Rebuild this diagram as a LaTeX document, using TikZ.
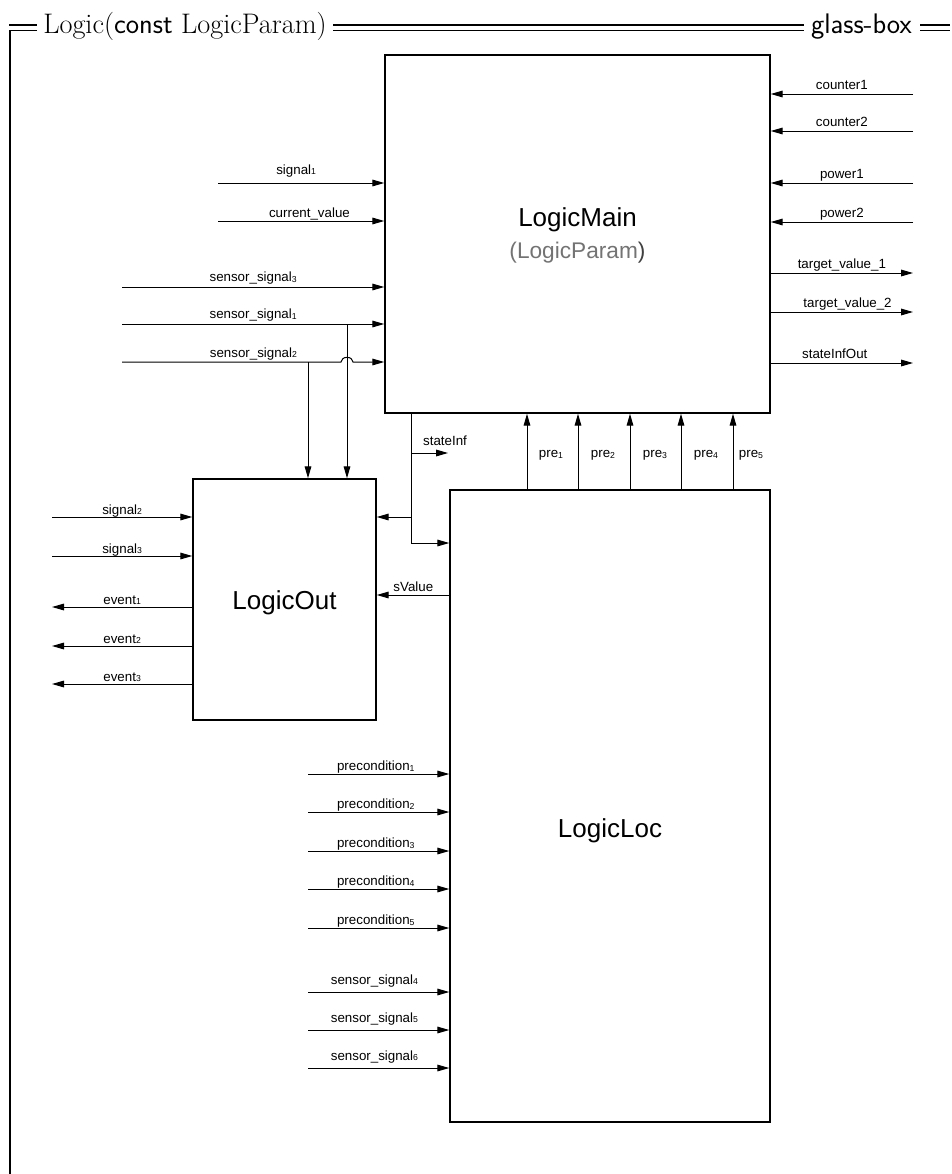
\documentclass[tikz,border=0pt]{standalone}
\usepackage{fontspec}
\newfontfamily\arialfont{Liberation Sans}
\usetikzlibrary{arrows.meta}
\newcommand{\idx}[1]{\raisebox{-0.3pt}{\fontsize{6.5}{6.5}\selectfont #1}}

\begin{document}
\begin{tikzpicture}[x=0.75pt, y=-0.75pt,
    block/.style={draw, line width=1.1pt, inner sep=0pt},
    sig/.style={-{Triangle[length=9pt,width=5pt]}, line width=0.75pt},
    lbl/.style={font=\arialfont\fontsize{10}{12}\selectfont, anchor=base, inner sep=0pt, yshift=#1},
    lbl/.default=4pt,
    big/.style={font=\arialfont\fontsize{19.5}{24}\selectfont, anchor=base, inner sep=0pt},
    frame/.style={line width=0.8pt}]
  \useasboundingbox (0,0) rectangle (951,1174);

  % frame and title
  \node[anchor=base west, inner sep=0pt, font=\fontsize{21.2}{26}\selectfont] (ttl) at (43,33) {Logic(\textsf{const} LogicParam)};
  \node[anchor=base east, inner sep=0pt, font=\sffamily\fontsize{21.2}{26}\selectfont] (gb) at (912,33) {glass-box};
  \foreach \y in {25,30.5} {
    \draw[frame] (333,\y) -- (804,\y);
    \draw[frame] (920,\y) -- (950,\y);
  }
  \draw[frame] (9,25) -- (37,25);
  \draw[frame] (37,30.5) -- (10,30.5);
  \draw[line width=1.2pt] (10,30.1) -- (10,1174);

  % blocks
  \node[block, minimum width=288.75pt, minimum height=268.5pt] (main) at (577.5,234) {};
  \node[block, minimum width=240pt, minimum height=474pt] (loc) at (610,806) {};
  \node[block, minimum width=137.25pt, minimum height=180.75pt] (out) at (284.5,599.5) {};
  \node[big] (mainname) at (577.5,226) {LogicMain};
  \node[big, font=\arialfont\fontsize{17}{20}\selectfont] (mainparam) at (577.5,258) {\textcolor{black!55}{(LogicParam}\textcolor{black!75})};
  \node[big] (outname) at (284.5,609) {LogicOut};
  \node[big] (locname) at (610,837) {LogicLoc};

  % inputs of LogicMain, left
  \coordinate (s1) at (218,183);
  \coordinate (cv) at (218,221);
  \coordinate (ss3) at (122,287);
  \coordinate (ss1) at (122,324);
  \coordinate (ss2) at (122,362);
  \coordinate (d1) at (347,324);
  \coordinate (d2) at (308,362);
  \coordinate (hop) at (d1 |- ss2);
  \draw[sig] (s1) -- (s1 -| main.west) node[lbl=6.5pt, pos=0.47] {signal\idx{1}};
  \draw[sig] (cv) -- (cv -| main.west) node[lbl=2.5pt, pos=0.55] {current\_value};
  \draw[sig] (ss3) -- (ss3 -| main.west) node[lbl, midway] {sensor\_signal\idx{3}};
  \draw[sig] (ss1) -- (ss1 -| main.west) node[lbl, pos=0.5] {sensor\_signal\idx{1}};
  \draw[sig] (ss2) -- ([xshift=-4.5pt]hop) node[lbl=3.75pt, pos=0.6] {sensor\_signal\idx{2}}
    arc[start angle=180, end angle=0, x radius=4.5pt, y radius=3.5pt] -- (ss2 -| main.west);
  \draw[sig] (d1) -- (d1 |- out.north);
  \draw[sig] (d2) -- (d2 |- out.north);

  % right side of LogicMain
  \foreach \n/\y/\t in {c1/94/counter1, c2/131/counter2, pw1/183/power1, pw2/222/power2} {
    \coordinate (\n) at (913,\y);
    \draw[sig] (\n) -- (\n -| main.east) node[lbl=3.5pt, midway] {\t};
  }
  \coordinate (tv1) at (913,273);
  \coordinate (tv2) at (913,312);
  \coordinate (sio) at (913,363);
  \draw[sig] (tv1 -| main.east) -- (tv1) node[lbl=3.5pt, midway] {target\_value\_1};
  \draw[sig] (tv2 -| main.east) -- (tv2) node[lbl=3.5pt, pos=0.54] {target\_value\_2};
  \draw[sig] (sio -| main.east) -- (sio) node[lbl=3.5pt, pos=0.45] {stateInfOut};

  % stateInf
  \coordinate (stT) at (411,413);
  \coordinate (stS) at (411,453);
  \coordinate (stE) at (448,453);
  \coordinate (stO) at (411,517);
  \coordinate (stB) at (411,543);
  \draw[sig] (stT) -- (stB) -- (stB -| loc.west);
  \draw[sig] (stO) -- (stO -| out.east);
  \draw[sig] (stS) -- (stE) node[lbl=5.8pt, pos=0.92] {stateInf};

  % pre1..pre5
  \foreach \i/\x/\lx in {1/527/551, 2/578/603, 3/630/655, 4/681/706, 5/733/751} {
    \coordinate (pr\i) at (\x,490);
    \draw[sig] (pr\i) -- (pr\i |- main.south);
    \node[lbl=-3.5pt] (prl\i) at (\lx,453) {pre\idx{\i}};
  }

  % sValue
  \coordinate (sv) at (450,595);
  \draw[sig] (sv) -- (sv -| out.east) node[lbl=2.7pt, midway] {sValue};

  % LogicOut, left
  \coordinate (sg2) at (52,517);
  \coordinate (sg3) at (52,556);
  \draw[sig] (sg2) -- (sg2 -| out.west) node[lbl=2pt, midway] {signal\idx{2}};
  \draw[sig] (sg3) -- (sg3 -| out.west) node[lbl=2pt, midway] {signal\idx{3}};
  \foreach \i/\y in {1/607, 2/646, 3/684} {
    \coordinate (ev\i) at (52,\y);
    \draw[sig] (ev\i -| out.west) -- (ev\i) node[lbl=2pt, midway] {event\idx{\i}};
  }

  % LogicLoc, left
  \foreach \i/\y in {1/774, 2/812, 3/851, 4/889, 5/928} {
    \coordinate (pc\i) at (308,\y);
    \draw[sig] (pc\i) -- (pc\i -| loc.west) node[lbl=2.5pt, pos=0.48] {precondition\idx{\i}};
  }
  \foreach \i/\y in {4/992, 5/1030, 6/1068} {
    \coordinate (ls\i) at (308,\y);
    \draw[sig] (ls\i) -- (ls\i -| loc.west) node[lbl=6pt, pos=0.47] {sensor\_signal\idx{\i}};
  }
\end{tikzpicture}
\end{document}
